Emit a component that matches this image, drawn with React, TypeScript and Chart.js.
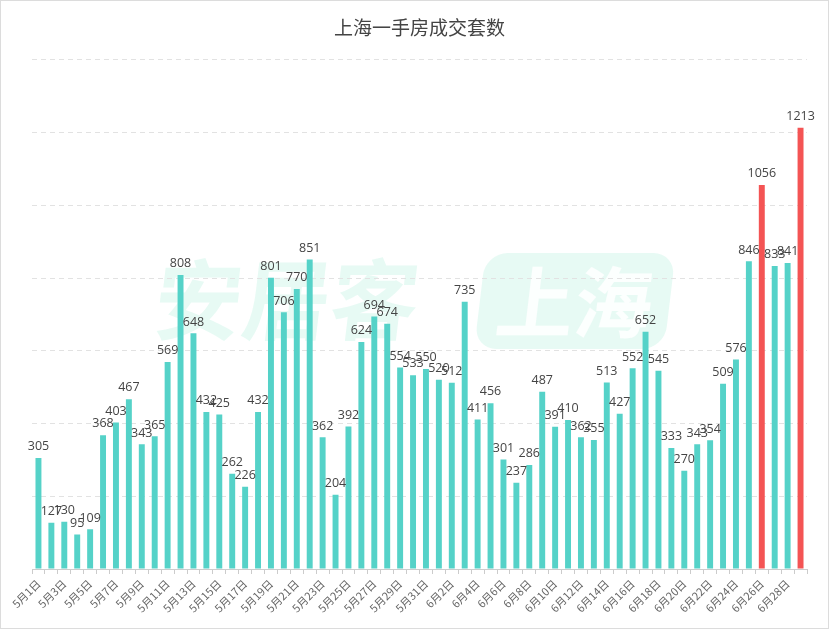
import { useEffect, useRef } from "react";
import { Chart, registerables, Plugin } from "chart.js";

Chart.register(...registerables);

const mayDays = [
  305, 127, 130, 95, 109, 368, 403, 467, 343, 365, 569, 808, 648, 432, 425, 262,
  226, 432, 801, 706, 770, 851, 362, 204, 392, 624, 694, 674, 554, 533, 550,
];
const juneDays = [
  520, 512, 735, 411, 456, 301, 237, 286, 487, 391, 410, 362, 355, 513, 427, 552,
  652, 545, 333, 270, 343, 354, 509, 576, 846, 1056, 833, 841, 1213,
];
// days shown in red
const highlightDays = ["6月26日", "6月29日"];

const categories = [
  ...mayDays.map((_, i) => `5月${i + 1}日`),
  ...juneDays.map((_, i) => `6月${i + 1}日`),
];
const counts = [...mayDays, ...juneDays];

const TEAL = "#55d2c8";
const RED = "#f45454";
const FONT = "'Noto Sans CJK SC', 'Open Sans', sans-serif";

// faint brand watermark behind the plot + thin frame around the picture
const decorPlugin: Plugin = {
  id: "decor",
  beforeDraw(chart) {
    const ctx = chart.ctx;
    ctx.save();
    ctx.fillStyle = "rgba(95, 220, 180, 0.15)";
    ctx.font = `bold 88px ${FONT}`;
    ctx.textBaseline = "middle";
    ctx.textAlign = "left";
    ctx.translate(300, 300);
    ctx.transform(1, 0, -0.12, 1, 0, 0);
    ctx.fillText("安居客", -145, 0);
    ctx.beginPath();
    ctx.roundRect(180, -47, 190, 96, 22);
    ctx.fill();
    ctx.fillStyle = "rgba(255,255,255,0.85)";
    ctx.font = `bold 78px ${FONT}`;
    ctx.fillText("上海", 197, 2);
    ctx.restore();
  },
  afterDraw(chart) {
    const ctx = chart.ctx;
    ctx.save();
    ctx.strokeStyle = "#dcdcdc";
    ctx.lineWidth = 1;
    ctx.strokeRect(0.5, 0.5, chart.width - 1, chart.height - 1);
    ctx.restore();
  },
};

const valueLabels: Plugin = {
  id: "valueLabels",
  afterDatasetsDraw(chart) {
    const ctx = chart.ctx;
    const meta = chart.getDatasetMeta(0);
    ctx.save();
    ctx.font = `12.5px 'Open Sans', sans-serif`;
    ctx.fillStyle = "#444";
    ctx.textAlign = "center";
    ctx.textBaseline = "bottom";
    meta.data.forEach((bar: any, i) => {
      ctx.fillText(String(counts[i]), bar.x, bar.y - 5);
    });
    ctx.restore();
  },
};

export default function App() {
  const canvasRef = useRef<HTMLCanvasElement | null>(null);

  useEffect(() => {
    if (!canvasRef.current) return;
    const chart = new Chart(canvasRef.current, {
      type: "bar",
      data: {
        labels: categories,
        datasets: [
          {
            data: counts,
            backgroundColor: categories.map((c) => (highlightDays.includes(c) ? RED : TEAL)),
            barPercentage: 0.46,
            categoryPercentage: 1,
          },
        ],
      },
      options: {
        animation: false,
        responsive: true,
        maintainAspectRatio: false,
        layout: { padding: { left: 32, right: 22, top: 0, bottom: 0 } },
        plugins: {
          legend: { display: false },
          tooltip: { enabled: false },
          title: {
            display: true,
            text: "上海一手房成交套数",
            color: "#444",
            font: { size: 19, weight: "normal", family: FONT },
            padding: { top: 16, bottom: 21 },
          },
        },
        scales: {
          x: {
            grid: { offset: true, drawOnChartArea: false, tickLength: 5, color: "#cccccc" },
            border: { color: "#cccccc" },
            ticks: {
              autoSkip: false,
              minRotation: 45,
              maxRotation: 45,
              color: "#666",
              font: { size: 11, family: FONT },
              callback: (_v, i) => (i % 2 === 0 ? categories[i] : ""),
            },
            afterFit: (scale) => {
              scale.height = 60;
            },
          },
          y: {
            min: 0,
            max: 1400,
            ticks: { display: false, stepSize: 200 },
            border: { display: false, dash: [5, 4] },
            grid: { color: "#e2e2e2", drawTicks: false },
          },
        },
      },
      plugins: [decorPlugin, valueLabels],
    });
    return () => chart.destroy();
  }, []);

  return (
    <div style={{ position: "fixed", top: 0, left: 0, width: 829, height: 629, background: "#fff" }}>
      <canvas ref={canvasRef} />
    </div>
  );
}
